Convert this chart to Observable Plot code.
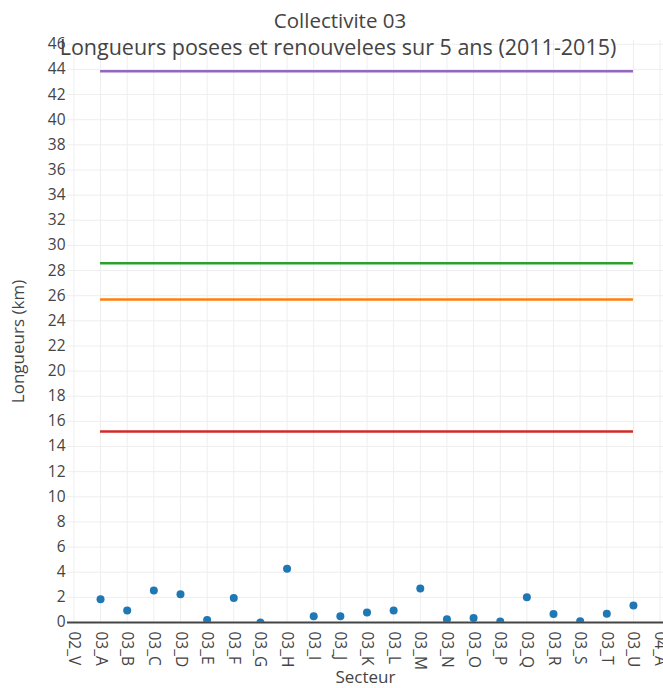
<!DOCTYPE html>
<html>
<head>
<meta charset="utf-8">
<script src="https://cdn.jsdelivr.net/npm/d3@7"></script>
<script src="https://cdn.jsdelivr.net/npm/@observablehq/plot@0.6"></script>
<style>
  html, body { margin: 0; padding: 0; background: #fff; }
  #wrap { position: relative; width: 663px; height: 688px; font-family: "Open Sans", sans-serif; overflow: hidden; }
  .t { position: absolute; color: #444; font-size: 20.5px; white-space: nowrap; line-height: 1; }
</style>
</head>
<body>
<div id="wrap">
  <div id="chart"></div>
  <div class="t" style="left:0;width:680px;text-align:center;top:10px;">Collectivite 03</div>
  <div class="t" style="left:0;width:676px;text-align:center;top:36px;font-size:21.5px;">Longueurs posees et renouvelees sur 5 ans (2011-2015)</div>
</div>
<script>
const categories = ["02_V","03_A","03_B","03_C","03_D","03_E","03_F","03_G","03_H","03_I","03_J","03_K","03_L","03_M","03_N","03_O","03_P","03_Q","03_R","03_S","03_T","03_U","04_A"];
const pointSectors = ["03_A","03_B","03_C","03_D","03_E","03_F","03_G","03_H","03_I","03_J","03_K","03_L","03_M","03_N","03_O","03_P","03_Q","03_R","03_S","03_T","03_U"];
const pointValues = [1.85, 0.95, 2.55, 2.25, 0.2, 1.95, 0.0, 4.27, 0.5, 0.5, 0.8, 0.95, 2.7, 0.25, 0.35, 0.08, 2.0, 0.68, 0.1, 0.7, 1.35];
const refValues = [43.85, 28.57, 25.7, 15.2];
const refColors = ["#9467bd", "#2ca02c", "#ff7f0e", "#d62728"];
const refStart = "03_A", refEnd = "03_U";
const yTicks = d3.range(0, 47, 2);

const points = pointSectors.map((s, i) => ({secteur: s, value: pointValues[i]}));
const refs = refValues.map((v, i) => ({value: v, color: refColors[i], x1: refStart, x2: refEnd}));

const chart = Plot.plot({
  width: 663,
  height: 688,
  marginLeft: 67,
  marginRight: 0,
  marginTop: 40,
  marginBottom: 66,
  style: {fontFamily: "Open Sans, sans-serif", fontSize: "15.5px", color: "#444", background: "#fff", overflow: "visible"},
  x: {type: "point", domain: categories, range: [73.4, 659.6], padding: 0, round: false, label: null},
  y: {domain: [0, 46.3], label: null},
  marks: [
    Plot.gridY(yTicks, {stroke: "#eee", strokeOpacity: 1, strokeWidth: 1}),
    Plot.gridX(categories, {stroke: "#eee", strokeOpacity: 1, strokeWidth: 1}),
    Plot.axisY(yTicks, {tickSize: 0, tickPadding: 2, fontSize: 15.5, fill: "#444", label: null}),
    Plot.axisX(categories, {tickSize: 0, tickPadding: 9, tickRotate: 90, fontSize: 15.5, fill: "#444", label: null}),
    Plot.ruleY(refs, {y: "value", x1: "x1", x2: "x2", stroke: "color", strokeWidth: 2.5}),
    Plot.ruleY([0], {stroke: "#444", strokeWidth: 2}),
    Plot.dot(points, {x: "secteur", y: "value", r: 4, fill: "#1f77b4", stroke: "none", clip: true}),
    Plot.text(["Secteur"], {frameAnchor: "bottom", dy: 60, fontSize: 17, fill: "#444"}),
    Plot.text(["Longueurs (km)"], {frameAnchor: "left", textAnchor: "middle", dx: -49, dy: 10, rotate: -90, fontSize: 17, fill: "#444"})
  ]
});
document.getElementById("chart").appendChild(chart);
</script>
</body>
</html>
